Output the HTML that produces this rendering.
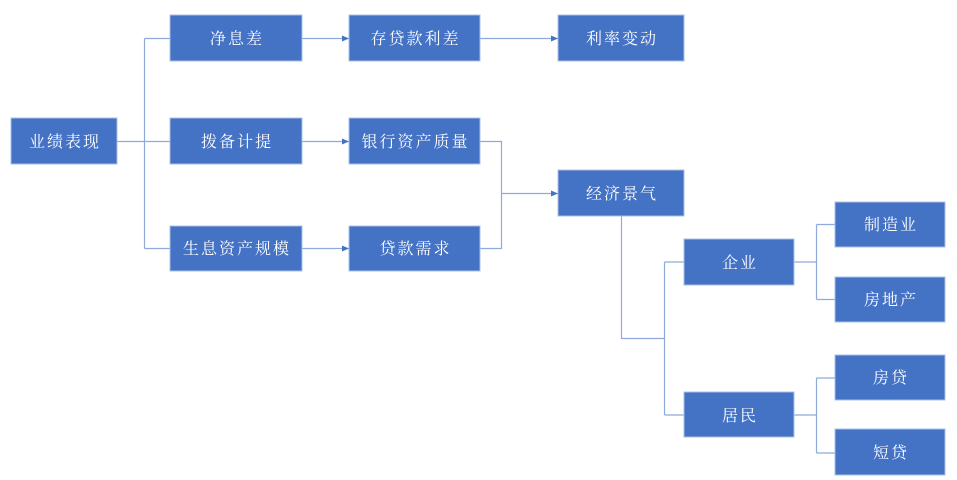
<!DOCTYPE html>
<html><head><meta charset="utf-8">
<style>
html,body{margin:0;padding:0;background:#fff;}
svg{display:block;}
text{font-family:"Liberation Serif","Noto Serif CJK SC","Noto Sans CJK SC",serif;font-size:16px;fill:#fff;letter-spacing:2px;}
</style></head>
<body>
<svg width="957" height="480" viewBox="0 0 957 480" xmlns="http://www.w3.org/2000/svg">
<defs>
<marker id="ar" markerWidth="7" markerHeight="6" refX="7" refY="3" orient="auto" markerUnits="userSpaceOnUse">
<path d="M0,0 L7,3 L0,6 Z" fill="#4472C4"/>
</marker>
</defs>
<g stroke="#8EAADB" stroke-width="1.2" fill="none">
<!-- root connectors -->
<path d="M117,141.5 H170"/>
<path d="M144.5,38.5 V248.5"/>
<path d="M144.5,38.5 H170"/>
<path d="M144.5,248.5 H170"/>
<!-- arrows row -->
<path d="M302,38.5 H349" marker-end="url(#ar)"/>
<path d="M302,141.5 H349" marker-end="url(#ar)"/>
<path d="M302,248.5 H349" marker-end="url(#ar)"/>
<path d="M480,38.5 H558" marker-end="url(#ar)"/>
<!-- merge to 经济景气 -->
<path d="M480,141.5 H501.5 V248.5 H480"/>
<path d="M501.5,193.5 H558" marker-end="url(#ar)"/>
<!-- 经济景气 down -->
<path d="M621.5,216 V338.5 H664.5"/>
<path d="M664.5,262 V415 "/>
<path d="M664.5,262 H684"/>
<path d="M664.5,415 H684"/>
<!-- 企业 -->
<path d="M794,262 H816.5"/>
<path d="M816.5,224.5 V299.5"/>
<path d="M816.5,224.5 H835"/>
<path d="M816.5,299.5 H835"/>
<!-- 居民 -->
<path d="M794,415 H816.5"/>
<path d="M816.5,378 V453"/>
<path d="M816.5,378 H835"/>
<path d="M816.5,453 H835"/>
</g>
<g fill="#4472C4" stroke="#A9C0E8" stroke-width="1">
<rect x="11" y="118" width="106" height="46"/>
<rect x="170" y="15" width="132" height="46"/>
<rect x="170" y="118" width="132" height="46"/>
<rect x="170" y="226" width="132" height="45"/>
<rect x="349" y="15" width="131" height="46"/>
<rect x="349" y="118" width="131" height="46"/>
<rect x="349" y="226" width="131" height="45"/>
<rect x="558" y="15" width="126" height="46"/>
<rect x="558" y="170" width="126" height="46"/>
<rect x="684" y="239" width="110" height="46"/>
<rect x="684" y="392" width="110" height="45"/>
<rect x="835" y="202" width="110" height="45"/>
<rect x="835" y="277" width="110" height="45"/>
<rect x="835" y="355" width="110" height="45"/>
<rect x="835" y="429" width="110" height="46"/>
</g>
<g text-anchor="middle">
<text x="65" y="147">业绩表现</text>
<text x="237" y="44">净息差</text>
<text x="237" y="147">拨备计提</text>
<text x="237" y="254">生息资产规模</text>
<text x="415.5" y="44">存贷款利差</text>
<text x="415.5" y="147">银行资产质量</text>
<text x="415.5" y="254">贷款需求</text>
<text x="622" y="44">利率变动</text>
<text x="622" y="199">经济景气</text>
<text x="740" y="268">企业</text>
<text x="740" y="421">居民</text>
<text x="891" y="230">制造业</text>
<text x="891" y="305">房地产</text>
<text x="891" y="383">房贷</text>
<text x="891" y="458">短贷</text>
</g>
</svg>
</body></html>
